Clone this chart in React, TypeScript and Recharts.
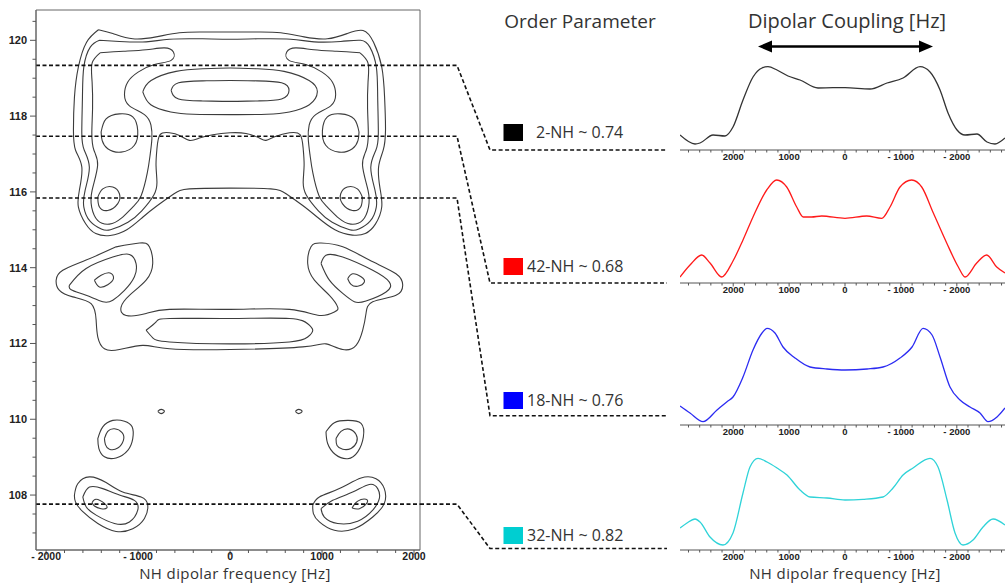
import React from 'react';
import { LineChart, Line, XAxis, YAxis, ReferenceLine, ReferenceArea } from 'recharts';

// ---------------- Left panel: 2D contour data (Hz, ppm) ----------------
const contourLevel1 = [[-1431,120.28],[-1275,120.18],[-1058,120.04],[-804,120.09],[-551,120.2],[-297,120.22],[0,120.22],[297,120.22],[551,120.2],[804,120.09],[1058,120.04],[1275,120.18],[1446,120.26],[1560,119.95],[1649,119.3],[1680,118.5],[1690,117.63],[1665,117.1],[1615,116.66],[1630,116.1],[1649,115.6],[1580,115.15],[1470,114.9],[1330,114.86],[1140,115.0],[950,115.33],[790,115.64],[609,115.95],[442,116.08],[0,116.1],[-442,116.08],[-609,115.95],[-790,115.64],[-950,115.33],[-1123,115.0],[-1304,114.85],[-1460,114.9],[-1570,115.16],[-1649,115.6],[-1638,116.05],[-1612,116.66],[-1680,117.1],[-1703,117.63],[-1692,118.5],[-1649,119.3],[-1560,119.95],[-1431,120.28]];
const contourLevel2 = [[-1420,120.0],[-1203,119.97],[-913,119.96],[-659,120.03],[-297,120.04],[0,120.03],[297,120.04],[659,120.03],[913,119.96],[1203,119.97],[1420,120.0],[1520,119.82],[1590,119.3],[1605,118.5],[1612,117.55],[1585,117.1],[1530,116.65],[1576,116.04],[1590,115.6],[1520,115.22],[1400,115.02],[1300,115.0],[1110,115.2],[960,115.5],[830,115.91],[795,116.26],[805,116.7],[795,117.14],[761,117.51],[645,117.56],[500,117.47],[391,117.36],[319,117.42],[174,117.54],[0,117.56],[-188,117.51],[-333,117.42],[-442,117.36],[-551,117.49],[-659,117.56],[-761,117.51],[-795,117.14],[-805,116.7],[-795,116.26],[-830,115.91],[-960,115.5],[-1110,115.2],[-1300,115.0],[-1400,115.02],[-1520,115.22],[-1590,115.6],[-1576,116.04],[-1530,116.65],[-1585,117.1],[-1612,117.55],[-1605,118.5],[-1590,119.3],[-1520,119.82],[-1420,120.0]];
const contourLevel3Left = [[-1413,119.67],[-1160,119.71],[-913,119.75],[-714,119.8],[-616,119.69],[-641,119.47],[-822,119.36],[-1000,119.16],[-1112,118.9],[-1148,118.57],[-1094,118.27],[-931,118.04],[-860,117.76],[-850,117.4],[-870,116.96],[-900,116.5],[-967,115.9],[-1058,115.6],[-1185,115.3],[-1312,115.15],[-1440,115.25],[-1505,115.6],[-1500,116.04],[-1440,116.7],[-1480,117.1],[-1503,117.55],[-1495,118.2],[-1500,118.9],[-1500,119.4],[-1413,119.67]];
const contourLevel3Right = [[1413,119.67],[1160,119.71],[913,119.75],[714,119.8],[616,119.69],[641,119.47],[822,119.36],[1000,119.16],[1112,118.9],[1148,118.57],[1094,118.27],[931,118.04],[860,117.76],[850,117.4],[870,116.96],[900,116.5],[967,115.9],[1058,115.6],[1185,115.3],[1312,115.15],[1440,115.25],[1505,115.6],[1500,116.04],[1440,116.7],[1480,117.1],[1503,117.55],[1495,118.2],[1500,118.9],[1500,119.4],[1413,119.67]];
const ridgeOuter = [[-949,118.64],[-859,118.94],[-587,119.18],[-297,119.25],[0,119.27],[297,119.25],[587,119.18],[859,118.94],[949,118.64],[862,118.3],[645,118.11],[400,118.05],[0,118.04],[-400,118.05],[-645,118.11],[-862,118.3],[-949,118.64]];
const ridgeInner = [[-641,118.68],[-560,118.88],[-297,118.93],[0,118.94],[297,118.93],[560,118.88],[641,118.68],[560,118.45],[297,118.4],[0,118.39],[-297,118.4],[-560,118.45],[-641,118.68]];
const ovalUpperLeft = [[-1402,117.58],[-1348,117.93],[-1203,118.06],[-1058,117.98],[-1004,117.62],[-1040,117.23],[-1185,117.05],[-1330,117.14],[-1391,117.36],[-1402,117.58]];
const ovalUpperRight = [[1402,117.58],[1348,117.93],[1203,118.06],[1058,117.98],[1004,117.62],[1040,117.23],[1185,117.05],[1330,117.14],[1391,117.36],[1402,117.58]];
const ovalLowerLeft = [[-1438,115.86],[-1384,116.08],[-1275,116.13],[-1203,115.95],[-1221,115.69],[-1330,115.51],[-1420,115.6],[-1438,115.86]];
const ovalLowerRight = [[1438,115.86],[1384,116.08],[1275,116.13],[1203,115.95],[1221,115.69],[1330,115.51],[1420,115.6],[1438,115.86]];
const bandOuter = [[-1239,114.55],[-985,114.65],[-877,114.55],[-841,114.11],[-913,113.67],[-1094,113.27],[-1185,112.96],[-1130,112.74],[-913,112.79],[-659,112.9],[0,112.9],[645,112.9],[971,112.74],[1134,112.83],[1170,112.96],[1080,113.27],[917,113.67],[844,114.11],[880,114.55],[989,114.65],[1225,114.55],[1514,114.2],[1804,113.84],[1877,113.54],[1804,113.27],[1551,113.1],[1478,112.79],[1442,112.35],[1370,111.95],[1225,111.84],[1043,111.99],[790,111.91],[0,111.84],[-659,111.86],[-949,111.95],[-1203,111.84],[-1366,111.86],[-1438,112.17],[-1456,112.61],[-1511,113.05],[-1710,113.23],[-1855,113.4],[-1891,113.67],[-1819,113.93],[-1565,114.2],[-1239,114.55]];
const bandInner = [[-913,112.35],[-804,112.57],[-659,112.66],[0,112.66],[645,112.66],[844,112.52],[899,112.35],[844,112.17],[645,112.04],[0,111.99],[-659,112.04],[-841,112.15],[-913,112.35]];
const lobeMidLeft = [[-1746,113.54],[-1565,113.98],[-1275,114.28],[-1094,114.35],[-1022,114.11],[-1040,113.76],[-1148,113.4],[-1275,113.14],[-1384,113.1],[-1565,113.27],[-1728,113.42],[-1746,113.54]];
const lobeMidRight = [[989,114.11],[1043,114.33],[1225,114.28],[1551,113.93],[1732,113.62],[1696,113.36],[1478,113.12],[1351,113.1],[1225,113.32],[1080,113.67],[989,114.11]];
const coreMidLeft = [[-1475,113.67],[-1402,113.8],[-1304,113.86],[-1268,113.71],[-1330,113.55],[-1420,113.49],[-1475,113.67]];
const coreMidRight = [[1279,113.71],[1333,113.84],[1424,113.76],[1460,113.62],[1388,113.51],[1315,113.56],[1279,113.71]];
const dotLeft = [[-786,110.21],[-750,110.26],[-714,110.21],[-750,110.15],[-786,110.21]];
const dotRight = [[710,110.21],[746,110.26],[783,110.21],[746,110.15],[710,110.21]];
const ring110LeftOuter = [[-1438,109.49],[-1384,109.8],[-1275,109.97],[-1148,109.95],[-1065,109.8],[-1058,109.49],[-1112,109.18],[-1239,108.98],[-1366,109.01],[-1427,109.23],[-1438,109.49]];
const ring110LeftInner = [[-1366,109.49],[-1330,109.68],[-1257,109.75],[-1174,109.65],[-1159,109.45],[-1221,109.24],[-1312,109.21],[-1355,109.33],[-1366,109.49]];
const ring110RightOuter = [[1043,109.67],[1134,109.91],[1279,109.97],[1424,109.89],[1449,109.53],[1388,109.14],[1279,108.96],[1145,109.07],[1061,109.36],[1043,109.67]];
const ring110RightInner = [[1152,109.49],[1206,109.68],[1297,109.74],[1370,109.6],[1377,109.4],[1315,109.23],[1225,109.21],[1163,109.31],[1152,109.49]];
const lobe108LeftOuter = [[-1692,108.0],[-1656,108.3],[-1529,108.48],[-1348,108.33],[-1167,108.08],[-967,107.95],[-895,107.73],[-931,107.38],[-1058,107.11],[-1239,107.04],[-1438,107.25],[-1601,107.56],[-1681,107.82],[-1692,108.0]];
const lobe108LeftInner = [[-1601,107.95],[-1529,108.21],[-1384,108.17],[-1203,108.0],[-1040,107.86],[-1004,107.6],[-1094,107.29],[-1257,107.25],[-1456,107.47],[-1565,107.69],[-1601,107.95]];
const lobe108LeftCore = [[-1500,107.8],[-1456,107.89],[-1366,107.78],[-1340,107.66],[-1402,107.64],[-1475,107.71],[-1500,107.8]];
const lobe108RightOuter = [[899,107.73],[971,107.95],[1188,108.17],[1424,108.45],[1587,108.43],[1677,108.17],[1677,107.78],[1551,107.42],[1351,107.11],[1134,107.07],[971,107.29],[906,107.51],[899,107.73]];
const lobe108RightInner = [[989,107.64],[1116,107.86],[1333,108.08],[1514,108.28],[1605,108.17],[1623,107.91],[1551,107.6],[1388,107.31],[1170,107.25],[1025,107.42],[989,107.64]];
const lobe108RightCore = [[1326,107.66],[1388,107.84],[1478,107.89],[1485,107.78],[1406,107.64],[1326,107.66]];

const contours = [contourLevel1, contourLevel2, contourLevel3Left, contourLevel3Right, ridgeOuter, ridgeInner,
  ovalUpperLeft, ovalUpperRight, ovalLowerLeft, ovalLowerRight, bandOuter, bandInner, lobeMidLeft, lobeMidRight,
  coreMidLeft, coreMidRight, dotLeft, dotRight, ring110LeftOuter, ring110LeftInner, ring110RightOuter, ring110RightInner,
  lobe108LeftOuter, lobe108LeftInner, lobe108LeftCore, lobe108RightOuter, lobe108RightInner, lobe108RightCore];

// Slices (ppm) through the 2D spectrum
const sliceShifts = [119.34, 117.47, 115.84, 107.76];

// Axis ticks
const leftXDomain = [-2110, 2065];
const leftYDomain = [106.55, 120.8];
const leftXLabels = [-2000, -1000, 0, 1000, 2000];
const leftXTicks = [-2000,-1800,-1600,-1400,-1200,-1000,-800,-600,-400,-200,0,200,400,600,800,1000,1200,1400,1600,1800,2000];
const leftYLabels = [108, 110, 112, 114, 116, 118, 120];
const leftYTicks = [107,107.5,108,108.5,109,109.5,110,110.5,111,111.5,112,112.5,113,113.5,114,114.5,115,115.5,116,116.5,117,117.5,118,118.5,119,119.5,120,120.5];

// ---------------- Right panels: 1D slices (Hz, intensity) ----------------
const sliceHz2NH = [2952,2683,2594,2361,2147,2004,1825,1646,1485,1378,1217,1020,805,483,215,0,-447,-751,-1038,-1342,-1521,-1700,-1843,-2004,-2147,-2361,-2540,-2683,-2862];
const slice2NH = [15,6,7,15,14,23,50,73,82,83.3,80,74,70,62,62.3,62.3,61,67,72,83.3,78,60,37,20,15,16,8,6,12];
const sliceHz42NH = [2952,2773,2564,2415,2206,2004,1825,1646,1401,1222,1043,864,746,599,417,0,-388,-657,-805,-984,-1193,-1372,-1580,-1819,-2027,-2147,-2356,-2535,-2714,-2862];
const slice42NH = [6,18,28,20,6,22,43,66,93,103,96,76,66,66,67,64.7,67,64.7,76,96,103,96,70,40,16,6,20,28,16,10];
const sliceHz18NH = [2952,2773,2540,2290,2111,2004,1825,1646,1485,1395,1253,1109,894,626,322,0,-394,-680,-984,-1199,-1396,-1557,-1700,-1878,-2057,-2236,-2415,-2558,-2719,-2862];
const slice18NH = [19,12,3.3,15,23.3,28,48,75,92,96.7,92,78,67,58,56,55,56,58,67,78,96.7,90,68,38,25,18,12,3.3,8,17];
const sliceHz32NH = [2952,2827,2683,2594,2415,2183,2004,1825,1700,1556,1395,1217,1038,805,626,322,0,-322,-680,-859,-1038,-1217,-1521,-1664,-1825,-1968,-2111,-2290,-2469,-2648,-2862];
const slice32NH = [22,27,31,28,13,5,17,57,83,91.7,88,82,75,60,53,52,50,50.7,53,62,75,82,91.7,83,50,17,5,10,23,31,25];

const smallXDomain = [-2862, 2952];
const smallLabels = [-2000, -1000, 0, 1000, 2000];
const smallTicks = [-2800,-2600,-2400,-2200,-2000,-1800,-1600,-1400,-1200,-1000,-800,-600,-400,-200,0,200,400,600,800,1000,1200,1400,1600,1800,2000,2200,2400,2600,2800];

const slices = [
  { name: '2-NH ~ 0.74', color: '#000000', line: '#333333', hz: sliceHz2NH, v: slice2NH },
  { name: '42-NH ~ 0.68', color: '#ff0000', line: '#ff1a1a', hz: sliceHz42NH, v: slice42NH },
  { name: '18-NH ~ 0.76', color: '#0000ff', line: '#2b2bf2', hz: sliceHz18NH, v: slice18NH },
  { name: '32-NH ~ 0.82', color: '#00ced1', line: '#2fd3d8', hz: sliceHz32NH, v: slice32NH },
];

// ---------------- Layout ----------------
const W = 1005, H = 583;
const LEFT_W = 670, PLOT_L = 36, PLOT_R = 420, PLOT_T = 10, PLOT_B = 550;
const SMALL_X = 680, SMALL_W = 325, SMALL_PLOT_H = 110, SMALL_AXIS_H = 22;
const smallAxisY = [150, 283, 425, 550];
const connectorEndY = [150, 283, 415.7, 548.5];
const legendBaseline = [138.3, 271.7, 405.7, 541];
const legendTextX = [536, 527, 527, 527];
const legendBoxY = [124, 258, 392, 527];

const ppmToY = (ppm: number) => PLOT_T + (leftYDomain[1] - ppm) / (leftYDomain[1] - leftYDomain[0]) * (PLOT_B - PLOT_T);

const fmt = (v: number) => (v < 0 ? `- ${-v}` : `${v}`);
const TICK_FONT = 'Liberation Sans, Arial, Helvetica, sans-serif';
const TITLE_FONT = '"Open Sans", "Noto Sans", sans-serif';

const LeftXTick = (props: any) => {
  const { x, y, payload } = props;
  const v = payload.value;
  const major = leftXLabels.includes(v);
  return (
    <g>
      <line x1={x} y1={y} x2={x} y2={y + (major ? 5 : 3)} stroke="#555" strokeWidth={1} />
      {major && (
        <text x={x} y={y + 10.3} textAnchor="middle" fontSize={10.5} fontWeight="bold" fontFamily={TICK_FONT} fill="#222">{fmt(v)}</text>
      )}
    </g>
  );
};

const LeftYTick = (props: any) => {
  const { x, y, payload } = props;
  const v = payload.value;
  const major = leftYLabels.includes(v);
  return (
    <g>
      <line x1={x} y1={y} x2={x - (major ? 6 : 3.5)} y2={y} stroke="#555" strokeWidth={1} />
      {major && (
        <text x={x - 9} y={y + 4} textAnchor="end" fontSize={11} fontWeight="bold" fontFamily={TICK_FONT} fill="#222">{v}</text>
      )}
    </g>
  );
};

const SmallTick = (props: any) => {
  const { x, y, payload } = props;
  const v = payload.value;
  const major = smallLabels.includes(v);
  return (
    <g>
      <line x1={x} y1={y} x2={x} y2={y + (major ? 3.5 : 2.5)} stroke="#555" strokeWidth={1} />
      {major && (
        <text x={x} y={y + 10.3} textAnchor="middle" fontSize={9.5} fontWeight="bold" fontFamily={TICK_FONT} fill="#222">{fmt(v)}</text>
      )}
    </g>
  );
};

export default function App() {
  const contourData = contours.map((c) => c.map(([hz, ppm]) => ({ hz, ppm })));
  return (
    <div style={{ position: 'absolute', left: 0, top: 0, width: W, height: H, background: '#fff', overflow: 'hidden' }}>
      <div style={{ position: 'absolute', left: 0, top: 0 }}>
        <LineChart width={LEFT_W} height={H} margin={{ top: PLOT_T, right: LEFT_W - PLOT_R, bottom: 0, left: 0 }}>
          <XAxis type="number" dataKey="hz" domain={leftXDomain} allowDataOverflow ticks={leftXTicks} interval={0}
            height={H - PLOT_B} tick={LeftXTick} tickLine={false} tickSize={0} tickMargin={0} axisLine={{ stroke: '#666' }} />
          <YAxis type="number" dataKey="ppm" domain={leftYDomain} allowDataOverflow ticks={leftYTicks} interval={0}
            width={PLOT_L} tick={LeftYTick} tickLine={false} tickSize={0} tickMargin={0} axisLine={{ stroke: '#666' }} />
          <ReferenceArea x1={leftXDomain[0]} x2={leftXDomain[1]} y1={leftYDomain[0]} y2={leftYDomain[1]} fill="none" fillOpacity={0} stroke="#666" strokeWidth={1} />
          {contourData.map((c, i) => (
            <Line key={i} data={c} dataKey="ppm" type="natural" dot={false} activeDot={false} stroke="#3c3c3c" strokeWidth={1.1} isAnimationActive={false} />
          ))}
          {sliceShifts.map((s, i) => (
            <ReferenceLine key={'s' + i} y={s} stroke="#111" strokeWidth={1.6} strokeDasharray="4 2.5" />
          ))}
        </LineChart>
      </div>

      {slices.map((s, i) => {
        const data = s.hz.map((hz, k) => ({ hz, v: s.v[k] }));
        return (
          <div key={i} style={{ position: 'absolute', left: SMALL_X, top: smallAxisY[i] - SMALL_PLOT_H }}>
            <LineChart width={SMALL_W} height={SMALL_PLOT_H + SMALL_AXIS_H} data={data} margin={{ top: 0, right: 0, bottom: 0, left: 0 }}>
              <XAxis type="number" dataKey="hz" domain={smallXDomain} reversed allowDataOverflow ticks={smallTicks} interval={0}
                height={SMALL_AXIS_H} tick={SmallTick} tickLine={false} tickSize={0} tickMargin={0} axisLine={{ stroke: '#555' }} />
              <YAxis type="number" hide domain={[0, SMALL_PLOT_H]} />
              <Line dataKey="v" type="monotone" stroke={s.line} strokeWidth={1.3} dot={false} activeDot={false} isAnimationActive={false} />
            </LineChart>
          </div>
        );
      })}

      <svg width={W} height={H} style={{ position: 'absolute', left: 0, top: 0, pointerEvents: 'none' }}>
        {sliceShifts.map((s, i) => {
          const y0 = ppmToY(s);
          return (
            <polyline key={i} points={`${PLOT_R},${y0} 457,${y0} 490,${connectorEndY[i]} 667,${connectorEndY[i]}`}
              fill="none" stroke="#111" strokeWidth={1.6} strokeDasharray="4 2.5" />
          );
        })}
        <text x={580} y={28} textAnchor="middle" fontFamily={TITLE_FONT} fontSize={19} fill="#333">Order Parameter</text>
        <text x={847} y={28} textAnchor="middle" fontFamily={TITLE_FONT} fontSize={20} fill="#333">Dipolar Coupling [Hz]</text>
        <line x1={768} y1={46.5} x2={923} y2={46.5} stroke="#000" strokeWidth={2.5} />
        <polygon points="758,46.5 772,40.5 772,52.5" fill="#000" />
        <polygon points="933,46.5 919,40.5 919,52.5" fill="#000" />
        {slices.map((s, i) => (
          <g key={'lg' + i}>
            <rect x={503.5} y={legendBoxY[i]} width={19.5} height={17} fill={s.color} />
            <text x={legendTextX[i]} y={legendBaseline[i]} fontFamily={TITLE_FONT} fontSize={16} fill="#333">{s.name}</text>
          </g>
        ))}
        <text x={235} y={578.5} textAnchor="middle" fontFamily={TITLE_FONT} fontSize={15} letterSpacing={0.4} fill="#333">NH dipolar frequency [Hz]</text>
        <text x={845} y={578.5} textAnchor="middle" fontFamily={TITLE_FONT} fontSize={15} letterSpacing={0.4} fill="#333">NH dipolar frequency [Hz]</text>
      </svg>
    </div>
  );
}
